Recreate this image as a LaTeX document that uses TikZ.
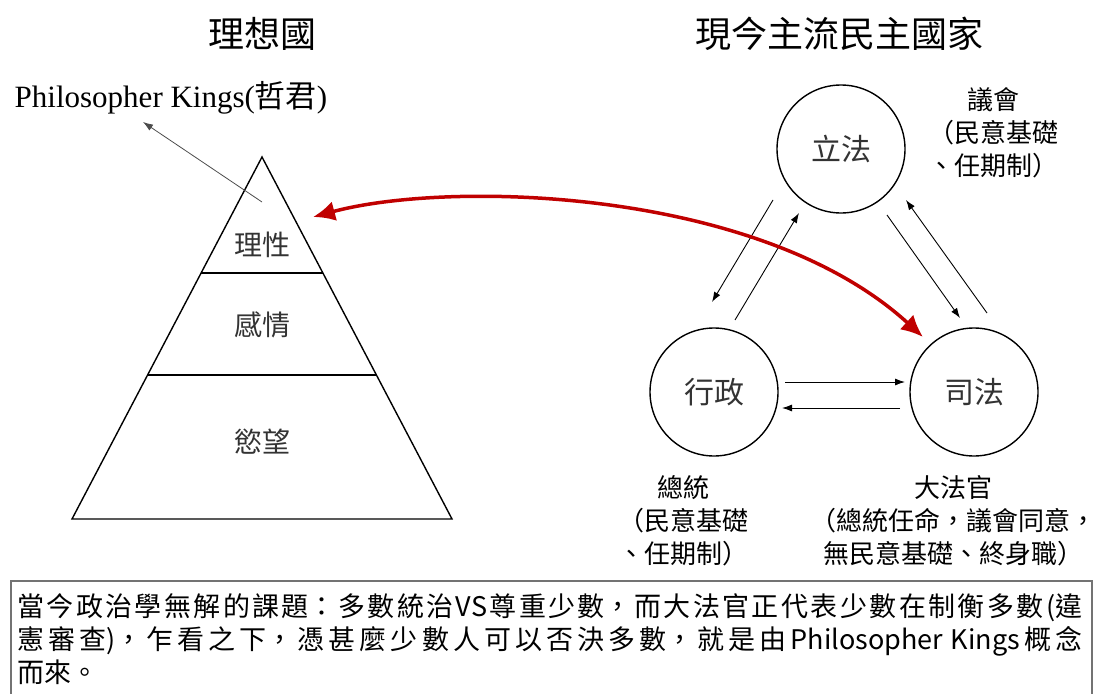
\documentclass[tikz,border=0pt]{standalone}
\usepackage{fontspec}
\setmainfont{Liberation Serif}
\newfontfamily\cjk{Noto Sans CJK TC}
\usetikzlibrary{arrows.meta,calc}
\definecolor{darkred}{RGB}{192,0,0}
\XeTeXlinebreaklocale "zh"
\XeTeXlinebreakskip=0pt plus 8pt
\begin{document}
\begin{tikzpicture}[x=1pt,y=-1pt,
  title/.style={font=\cjk\fontsize{36}{40}\selectfont},
  lvl/.style={font=\cjk\fontsize{28}{32}\selectfont, text=black!80},
  branch/.style={circle, draw, line width=1.4pt, minimum size=128pt, inner sep=0pt, font=\cjk\fontsize{30}{34}\selectfont, text=black!80},
  note/.style={align=center, font=\cjk\fontsize{26}{33}\selectfont},
  link/.style={line width=0.9pt, -{Latex[length=10pt,width=7pt]}},
  redarrow/.style={line width=3.5pt, draw=darkred, {Latex[length=22pt,width=20pt]}-{Latex[length=22pt,width=20pt]}},
  edge/.style={line width=1.4pt},
]
\useasboundingbox (0,0) rectangle (1097,693);

% titles
\node[title] (t1) at (262,34) {理想國};
\node[title] (t2) at (839,34) {現今主流民主國家};

% pyramid
\coordinate (apex) at (262,157);
\coordinate (bl) at (72,519);
\coordinate (br) at (452,519);
\draw[edge] (apex) -- (bl) -- (br) -- cycle;
\draw[edge] ($(apex)!0.3204!(bl)$) -- ($(apex)!0.3204!(br)$);
\draw[edge] ($(apex)!0.602!(bl)$) -- ($(apex)!0.602!(br)$);
\node[lvl] (reason) at (262,245) {理性};
\node[lvl] (emotion) at (262,325) {感情};
\node[lvl] (desire) at (262,442) {慾望};

\node[font=\fontsize{31}{34}\selectfont] (pk) at (171,98) {Philosopher Kings({\cjk 哲君})};
\draw[line width=0.8pt, draw=black!70, -{Latex[length=10pt,width=7pt]}] ($(reason)+(0,-43)$) -- ($(pk)+(-28,24)$);

% branches
\node[branch] (leg) at (841,149) {立法};
\node[branch] (exe) at (714,392) {行政};
\node[branch] (jud) at (974,392) {司法};

\draw[link] ($(leg)+(-68,51)$) -- ($(exe)+(-2,-90)$);
\draw[link] ($(exe)+(21,-72)$) -- ($(leg)+(-42,64)$);
\draw[link] ($(leg)+(46,66)$) -- ($(jud)+(-14,-74)$);
\draw[link] ($(jud)+(13,-79)$) -- ($(leg)+(65,51)$);
\draw[link] ($(exe)+(71,-10)$) -- ($(jud)+(-69,-10)$);
\draw[link] ($(jud)+(-74,16)$) -- ($(exe)+(68,16)$);

\draw[redarrow] ($(reason)+(51,-28)$) .. controls (450,180) and (760,188) .. ($(jud)+(-51,-55)$);

% notes
\node[note] (n1) at (993,133) {議會\\（民意基礎\\、任期制）};
\node[note] (n2) at (683,521) {總統\\（民意基礎\\、任期制）};
\node[note] (n3) at (953,521) {大法官\\（總統任命，議會同意，\\無民意基礎、終身職）};

% bottom box
\node[anchor=north west, text width=1065pt, inner sep=0pt, align=justify, font=\cjk\fontsize{27}{33}\selectfont] (txt) at (17,593)
 {當今政治學無解的課題：多數統治VS尊重少數，而大法官正代表少數在制衡多數(違\linebreak 憲審查)，乍看之下，憑甚麼少數人可以否決多數，就是由Philosopher Kings概念\linebreak 而來。};
\draw[line width=1.2pt, draw=black!55] (11,694) -- (11,581) -- (1092,581) -- (1092,694);
\end{tikzpicture}
\end{document}
